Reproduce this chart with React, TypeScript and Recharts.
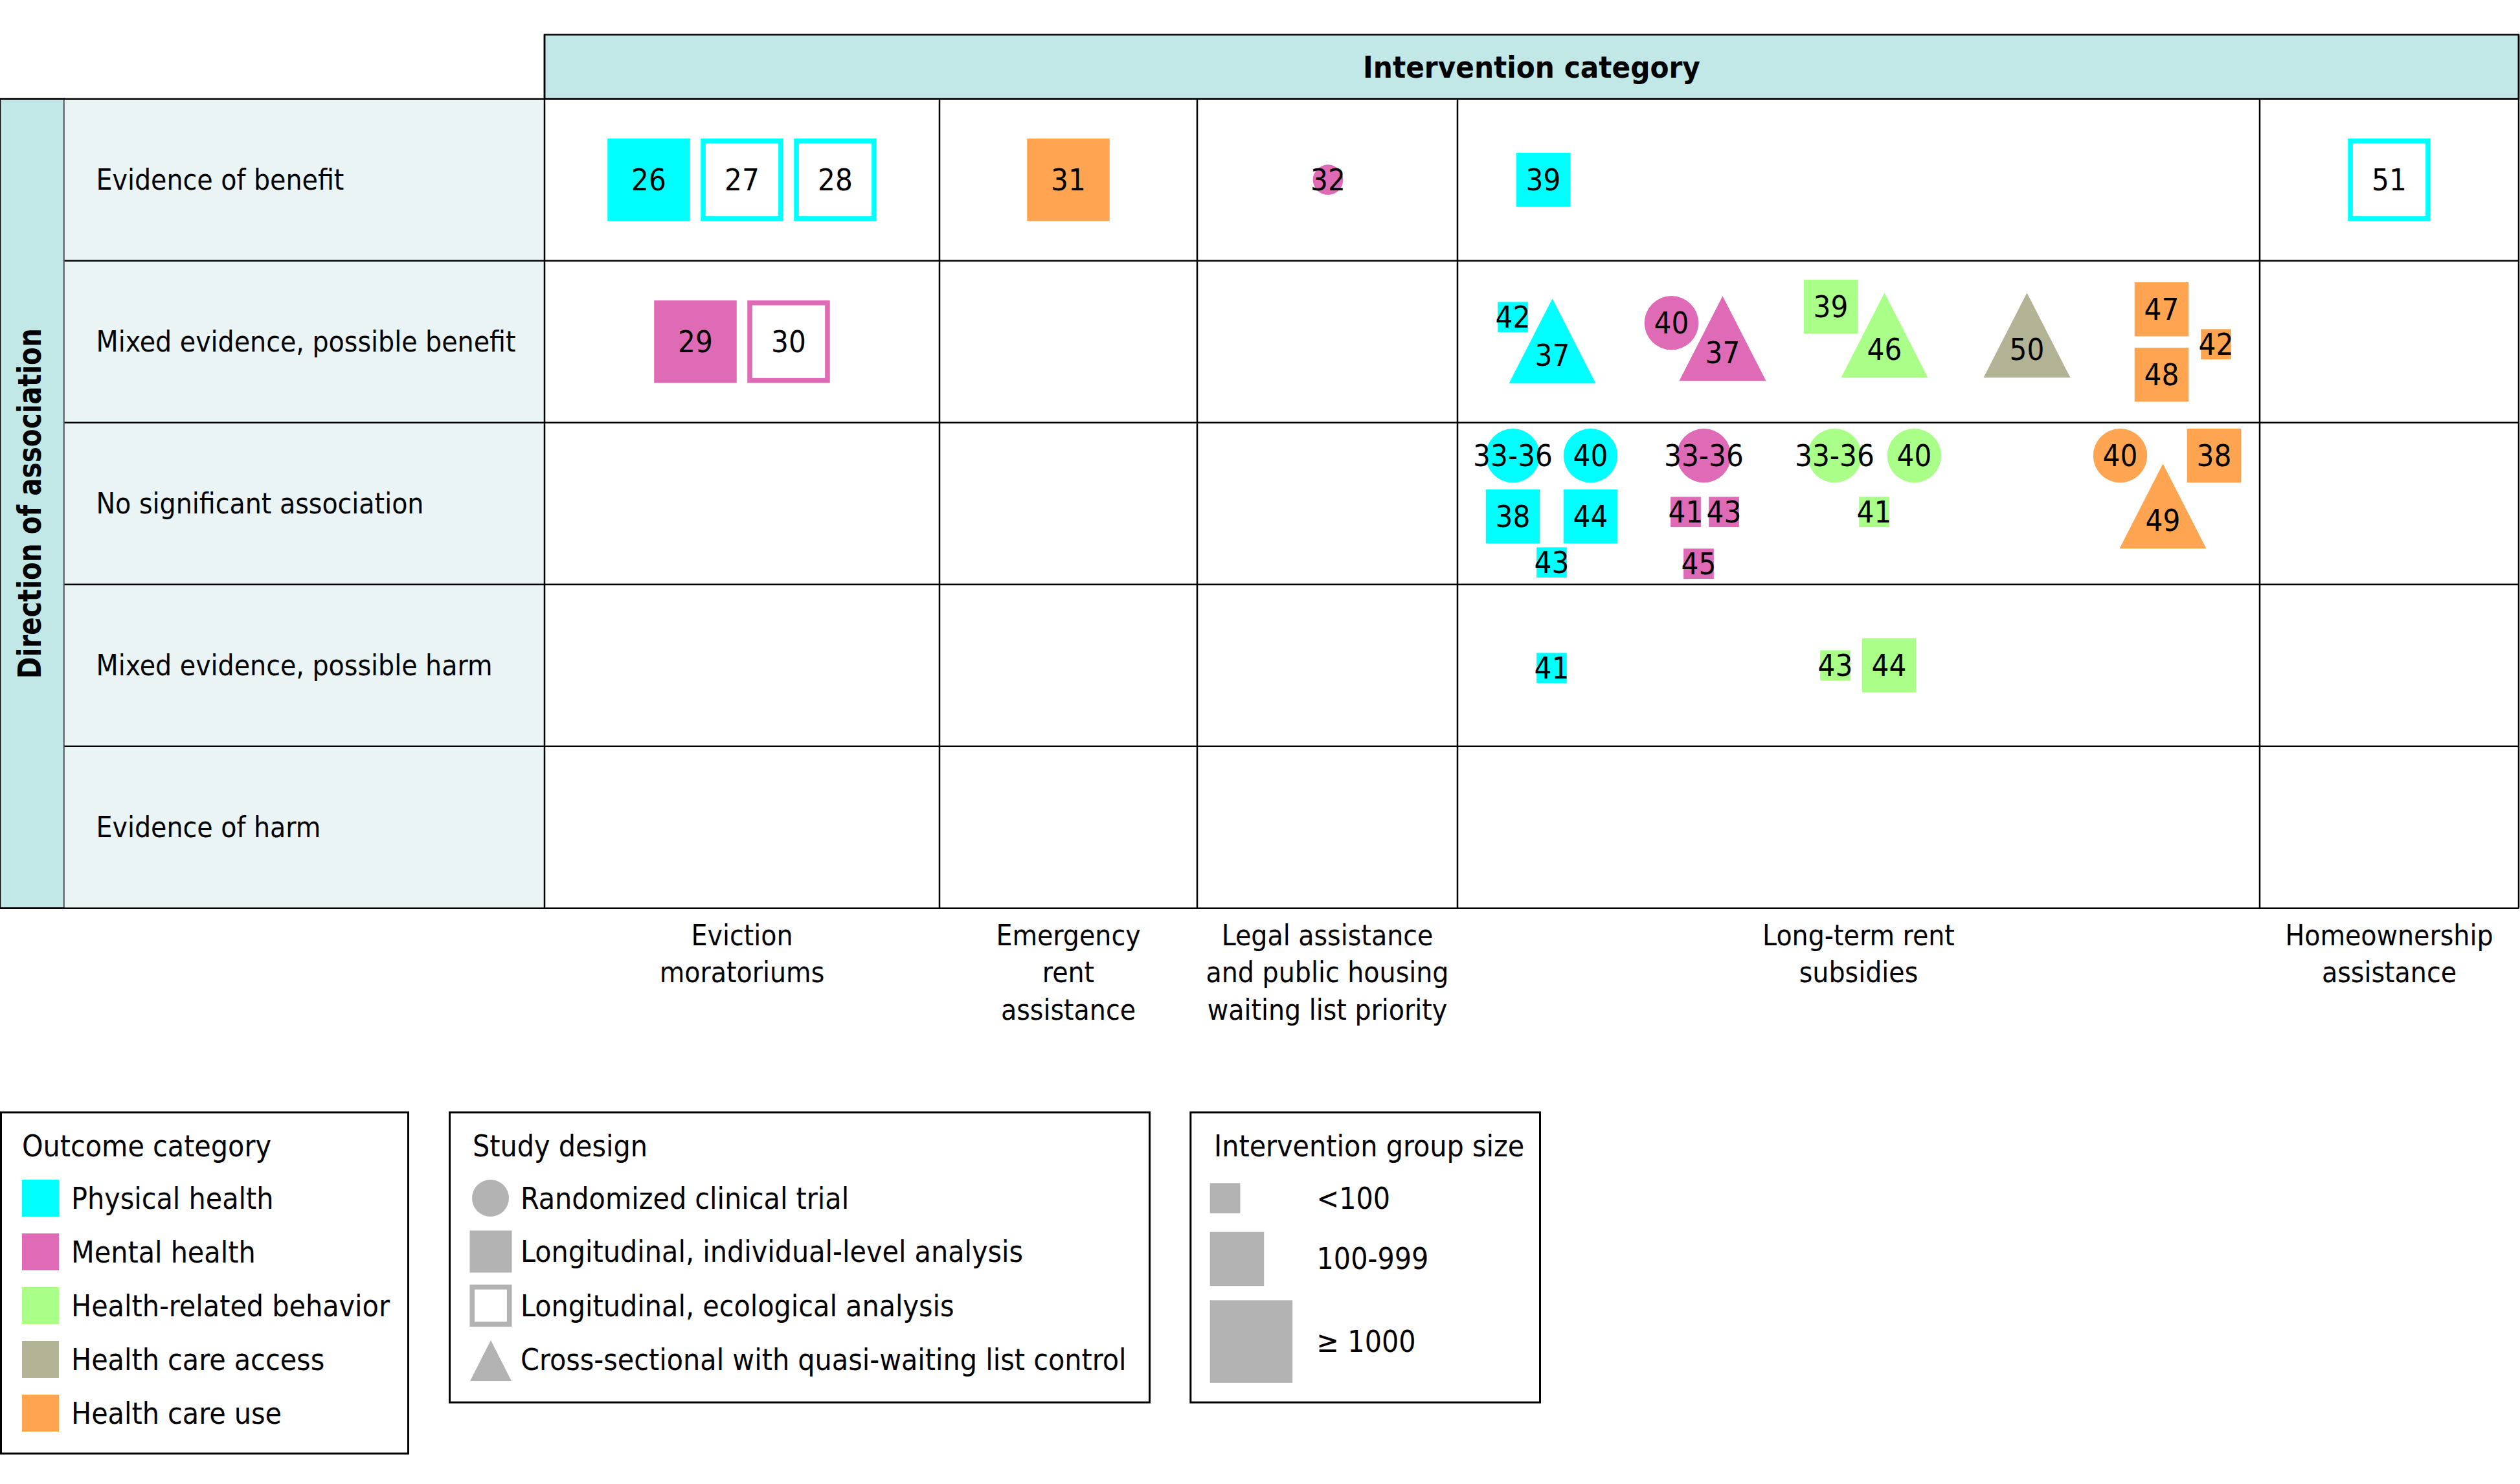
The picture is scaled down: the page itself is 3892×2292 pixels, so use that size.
import React from "react";
import {
  ScatterChart,
  Scatter,
  XAxis,
  YAxis,
  ReferenceArea,
  ReferenceLine,
  Label,
  Legend,
} from "recharts";

const W = 3892;
const H = 2292;
const FONT = "'DejaVu Sans Condensed', 'DejaVu Sans', sans-serif";

const interventions = [
  ["Eviction", "moratoriums"],
  ["Emergency", "rent", "assistance"],
  ["Legal assistance", "and public housing", "waiting list priority"],
  ["Long-term rent", "subsidies"],
  ["Homeownership", "assistance"],
];

const directions = [
  "Evidence of benefit",
  "Mixed evidence, possible benefit",
  "No significant association",
  "Mixed evidence, possible harm",
  "Evidence of harm",
];

const outcomes = [
  "Physical health",
  "Mental health",
  "Health-related behavior",
  "Health care access",
  "Health care use",
];
const outcomeColors = ["#00FFFF", "#DF6BB7", "#AAFF88", "#B2B394", "#FFA552"];

const designs = [
  "Randomized clinical trial",
  "Longitudinal, individual-level analysis",
  "Longitudinal, ecological analysis",
  "Cross-sectional with quasi-waiting list control",
];

const groupSizes = ["<100", "100-999", "\u2265 1000"];

// iv = intervention, dir = direction, out = outcome, des = design, size = group size
const studies = [
  { ref: "26", iv: 0, dir: 0, out: 0, des: 1, size: 2 },
  { ref: "27", iv: 0, dir: 0, out: 0, des: 2, size: 2 },
  { ref: "28", iv: 0, dir: 0, out: 0, des: 2, size: 2 },
  { ref: "31", iv: 1, dir: 0, out: 4, des: 1, size: 2 },
  { ref: "32", iv: 2, dir: 0, out: 1, des: 0, size: 0 },
  { ref: "39", iv: 3, dir: 0, out: 0, des: 1, size: 1 },
  { ref: "51", iv: 4, dir: 0, out: 0, des: 2, size: 2 },

  { ref: "29", iv: 0, dir: 1, out: 1, des: 1, size: 2 },
  { ref: "30", iv: 0, dir: 1, out: 1, des: 2, size: 2 },
  { ref: "42", iv: 3, dir: 1, out: 0, des: 1, size: 0 },
  { ref: "37", iv: 3, dir: 1, out: 0, des: 3, size: 2 },
  { ref: "40", iv: 3, dir: 1, out: 1, des: 0, size: 1 },
  { ref: "37", iv: 3, dir: 1, out: 1, des: 3, size: 2 },
  { ref: "39", iv: 3, dir: 1, out: 2, des: 1, size: 1 },
  { ref: "46", iv: 3, dir: 1, out: 2, des: 3, size: 2 },
  { ref: "50", iv: 3, dir: 1, out: 3, des: 3, size: 2 },
  { ref: "47", iv: 3, dir: 1, out: 4, des: 1, size: 1 },
  { ref: "48", iv: 3, dir: 1, out: 4, des: 1, size: 1 },
  { ref: "42", iv: 3, dir: 1, out: 4, des: 1, size: 0 },

  { ref: "33-36", iv: 3, dir: 2, out: 0, des: 0, size: 1 },
  { ref: "40", iv: 3, dir: 2, out: 0, des: 0, size: 1 },
  { ref: "38", iv: 3, dir: 2, out: 0, des: 1, size: 1 },
  { ref: "44", iv: 3, dir: 2, out: 0, des: 1, size: 1 },
  { ref: "43", iv: 3, dir: 2, out: 0, des: 1, size: 0 },
  { ref: "33-36", iv: 3, dir: 2, out: 1, des: 0, size: 1 },
  { ref: "41", iv: 3, dir: 2, out: 1, des: 1, size: 0 },
  { ref: "43", iv: 3, dir: 2, out: 1, des: 1, size: 0 },
  { ref: "45", iv: 3, dir: 2, out: 1, des: 1, size: 0 },
  { ref: "33-36", iv: 3, dir: 2, out: 2, des: 0, size: 1 },
  { ref: "40", iv: 3, dir: 2, out: 2, des: 0, size: 1 },
  { ref: "41", iv: 3, dir: 2, out: 2, des: 1, size: 0 },
  { ref: "40", iv: 3, dir: 2, out: 4, des: 0, size: 1 },
  { ref: "38", iv: 3, dir: 2, out: 4, des: 1, size: 1 },
  { ref: "49", iv: 3, dir: 2, out: 4, des: 3, size: 2 },

  { ref: "41", iv: 3, dir: 3, out: 0, des: 1, size: 0 },
  { ref: "43", iv: 3, dir: 3, out: 2, des: 1, size: 0 },
  { ref: "44", iv: 3, dir: 3, out: 2, des: 1, size: 1 },
];

// where each study sits inside its cell (px from the cell centre), same order as studies
const placement = [
  [-144, 0], [0, 0], [144, 0], [0, 0], [1, 0], [-487, 0], [0, 0],
  [-72, 0], [72, 0], [-534, -38], [-473, -1], [-289, -29], [-210, -5],
  [-43, -54], [40, -10], [260, -10], [468, -50], [468, 51], [552, 4],
  [-534, -74], [-414, -74], [-534, 20], [-414, 20], [-474, 91],
  [-239, -74], [-267, 13], [-208, 13], [-247, 93],
  [-37, -74], [86, -74], [24, 13],
  [404, -74], [549, -74], [470, 4],
  [-474, 4], [-36, 0], [47, 0],
];

// table layout (px)
const colEdges = [841, 1451, 1849, 2251, 3490, 3890];
const rowEdges = [152.7, 402.7, 652.7, 902.7, 1152.7, 1402.7];
const headerTop = 53.5;
const sideBand = 99.5;
const SIDE = [46.7, 83.5, 127.5];
const TRI_W = 134;
const TRI_H = 131;
const LINE = 2.5;

const mid = (a: number[], i: number) => (a[i] + a[i + 1]) / 2;

const points = studies.map((s, i) => ({
  ...s,
  x: mid(colEdges, s.iv) + placement[i][0],
  y: mid(rowEdges, s.dir) + placement[i][1],
}));

const StudyMark = (props: any) => {
  const { cx, cy, payload } = props;
  const color = outcomeColors[payload.out];
  const s = SIDE[payload.size];
  let mark;
  let ly = cy;
  if (payload.des === 0) {
    mark = <circle cx={cx} cy={cy} r={s / 2} fill={color} />;
  } else if (payload.des === 1) {
    mark = <rect x={cx - s / 2} y={cy - s / 2} width={s} height={s} fill={color} />;
  } else if (payload.des === 2) {
    mark = (
      <rect
        x={cx - s / 2 + 3.8}
        y={cy - s / 2 + 3.8}
        width={s - 7.6}
        height={s - 7.6}
        fill="#fff"
        stroke={color}
        strokeWidth={7.6}
      />
    );
  } else {
    const top = cy - TRI_H / 2;
    mark = (
      <polygon
        points={`${cx},${top} ${cx - TRI_W / 2},${top + TRI_H} ${cx + TRI_W / 2},${top + TRI_H}`}
        fill={color}
      />
    );
    ly = top + (TRI_H * 2) / 3;
  }
  return (
    <g>
      {mark}
      <text
        x={cx}
        y={ly}
        textAnchor="middle"
        dominantBaseline="central"
        fontSize={47}
        fontFamily={FONT}
        fill="#000"
      >
        {payload.ref}
      </text>
    </g>
  );
};

const LegendBoxes = () => {
  const gray = "#B3B3B3";
  const box = { fill: "#fff", stroke: "#000", strokeWidth: 3 };
  return (
    <svg width={2400} height={560} style={{ display: "block" }} fontFamily={FONT} fontSize={46}>
      {/* outcome category */}
      <rect x={1.5} y={18} width={629} height={527} {...box} />
      <text x={34} y={86}>Outcome category</text>
      {outcomes.map((o, i) => (
        <g key={o}>
          <rect x={34} y={122 + i * 83} width={57} height={57} fill={outcomeColors[i]} />
          <text x={110} y={150.5 + i * 83} dominantBaseline="central">
            {o}
          </text>
        </g>
      ))}

      {/* study design */}
      <rect x={694.5} y={18} width={1081} height={448} {...box} />
      <text x={730} y={86}>Study design</text>
      <circle cx={757.5} cy={150.5} r={28.5} fill={gray} />
      <rect x={725.5} y={200.5} width={65} height={65} fill={gray} />
      <rect x={729.3} y={287.8} width={57.4} height={57.4} fill="#fff" stroke={gray} strokeWidth={7.6} />
      <polygon points="758,370 726,433 790,433" fill={gray} />
      {designs.map((d, i) => (
        <text key={d} x={804} y={[150.5, 233, 316.5, 400][i]} dominantBaseline="central">
          {d}
        </text>
      ))}

      {/* intervention group size */}
      <rect x={1838.8} y={18} width={539.7} height={448} {...box} />
      <text x={1875} y={86}>Intervention group size</text>
      {groupSizes.map((g, i) => {
        const top = [127.3, 202.7, 308.3][i];
        return (
          <g key={g}>
            <rect x={1868.7} y={top} width={SIDE[i]} height={SIDE[i]} fill={gray} />
            <text x={2033.5} y={top + SIDE[i] / 2} dominantBaseline="central">
              {g}
            </text>
          </g>
        );
      })}
    </svg>
  );
};

export default function App() {
  return (
    <div style={{ position: "absolute", left: 0, top: 0, width: W, height: H, background: "#fff" }}>
      <ScatterChart width={W} height={H} margin={{ top: 0, right: 0, bottom: 0, left: 0 }}>
        <XAxis type="number" dataKey="x" domain={[0, W]} hide allowDataOverflow />
        <YAxis type="number" dataKey="y" domain={[0, H]} reversed hide allowDataOverflow />

        {/* header band */}
        <ReferenceArea
          x1={colEdges[0]}
          x2={colEdges[5]}
          y1={headerTop}
          y2={rowEdges[0]}
          fill="#C1E7E6"
          fillOpacity={1}
          stroke="#000"
          strokeWidth={LINE}
        >
          <Label
            value="Intervention category"
            position="center"
            fontSize={47}
            fontWeight="bold"
            fontFamily={FONT}
            fill="#000"
          />
        </ReferenceArea>

        {/* side band */}
        <ReferenceArea
          x1={0}
          x2={sideBand}
          y1={rowEdges[0]}
          y2={rowEdges[5]}
          fill="#C1E7E6"
          fillOpacity={1}
          stroke="#000"
          strokeWidth={LINE}
        >
          <Label
            content={({ viewBox }: any) => (
              <text
                transform={`translate(${viewBox.x + 63},${viewBox.y + viewBox.height / 2}) rotate(-90)`}
                textAnchor="middle"
                fontSize={50}
                fontWeight="bold"
                fontFamily={FONT}
                fill="#000"
                textLength={541}
                lengthAdjust="spacingAndGlyphs"
              >
                Direction of association
              </text>
            )}
          />
        </ReferenceArea>

        {/* row label column */}
        <ReferenceArea
          x1={sideBand}
          x2={colEdges[0]}
          y1={rowEdges[0]}
          y2={rowEdges[5]}
          fill="#EAF4F4"
          fillOpacity={1}
          stroke="none"
        />
        {directions.map((d, i) => (
          <ReferenceArea
            key={d}
            x1={sideBand}
            x2={colEdges[0]}
            y1={rowEdges[i]}
            y2={rowEdges[i + 1]}
            fillOpacity={0}
            stroke="none"
          >
            <Label
              value={d}
              position="insideLeft"
              offset={49}
              fontSize={44}
              fontFamily={FONT}
              fill="#000"
            />
          </ReferenceArea>
        ))}

        {/* column labels below the table */}
        {interventions.map((lines, i) => (
          <ReferenceArea
            key={lines.join(" ")}
            x1={colEdges[i]}
            x2={colEdges[i + 1]}
            y1={rowEdges[5]}
            y2={1600}
            fillOpacity={0}
            stroke="none"
          >
            <Label
              content={({ viewBox }: any) => (
                <text textAnchor="middle" fontSize={44} fontFamily={FONT} fill="#000">
                  {lines.map((l, k) => (
                    <tspan key={k} x={viewBox.x + viewBox.width / 2} y={viewBox.y + 57 + k * 57.5}>
                      {l}
                    </tspan>
                  ))}
                </text>
              )}
            />
          </ReferenceArea>
        ))}

        {/* grid lines */}
        {rowEdges.map((y, i) => (
          <ReferenceLine
            key={`h${i}`}
            segment={[
              { x: i === 0 || i === 5 ? 0 : sideBand, y },
              { x: colEdges[5], y },
            ]}
            stroke="#000"
            strokeWidth={LINE}
          />
        ))}
        {colEdges.map((x, i) => (
          <ReferenceLine
            key={`v${i}`}
            segment={[
              { x, y: i === 0 || i === 5 ? headerTop : rowEdges[0] },
              { x, y: rowEdges[5] },
            ]}
            stroke="#000"
            strokeWidth={LINE}
          />
        ))}

        <Scatter data={points} shape={StudyMark} isAnimationActive={false} />

        <Legend
          layout="horizontal"
          verticalAlign="middle"
          align="center"
          wrapperStyle={{ left: 0, top: 1700, width: 2400, height: 560 }}
          content={() => <LegendBoxes />}
        />
      </ScatterChart>
    </div>
  );
}
